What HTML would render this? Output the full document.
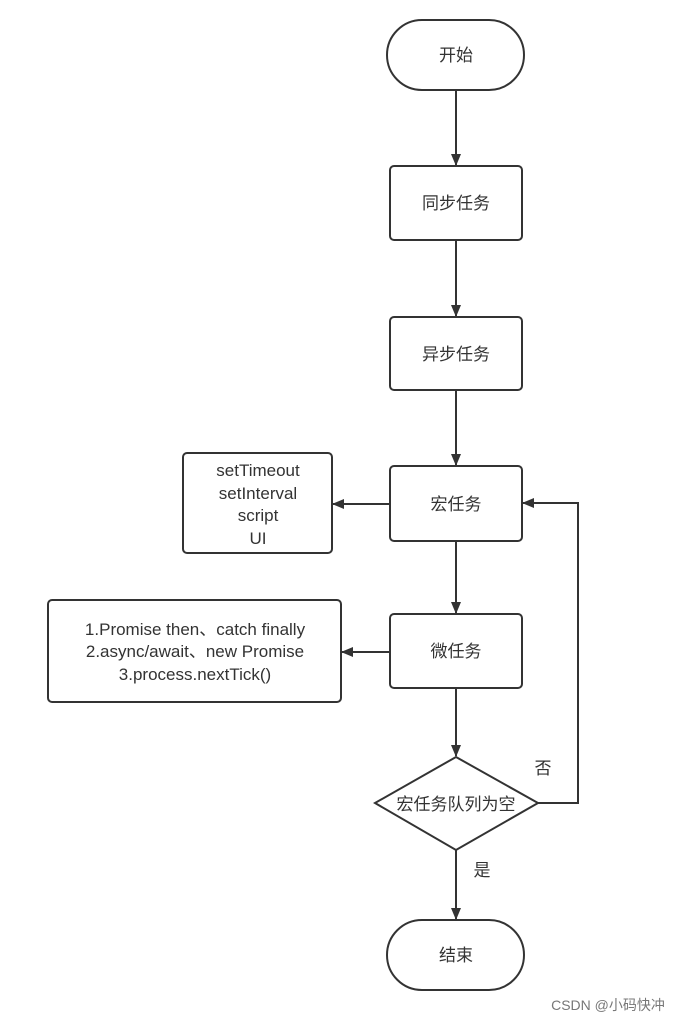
<!DOCTYPE html>
<html><head><meta charset="utf-8"><style>
html,body{margin:0;padding:0;background:#fff;}
svg{display:block;}
text{font-family:"Liberation Sans","Noto Sans CJK SC",sans-serif;fill:#333;}
</style></head><body>
<svg width="692" height="1024" viewBox="0 0 692 1024" xmlns="http://www.w3.org/2000/svg">
<defs><marker id="a" markerWidth="12" markerHeight="10" refX="11" refY="5" orient="auto" markerUnits="userSpaceOnUse"><path d="M0,0 L12,5 L0,10 z" fill="#333"/></marker></defs>
<g fill="none" stroke="#333" stroke-width="2">
<rect x="387" y="20" width="137" height="70" rx="35"/>
<rect x="390" y="166" width="132" height="74" rx="4"/>
<rect x="390" y="317" width="132" height="73" rx="4"/>
<rect x="390" y="466" width="132" height="75" rx="4"/>
<rect x="183" y="453" width="149" height="100" rx="4"/>
<rect x="390" y="614" width="132" height="74" rx="4"/>
<rect x="48" y="600" width="293" height="102" rx="4"/>
<path d="M456,757 L538,803 L456,850 L375,803 Z"/>
<rect x="387" y="920" width="137" height="70" rx="35"/>
<line x1="456" y1="90" x2="456" y2="165" marker-end="url(#a)"/>
<line x1="456" y1="240" x2="456" y2="316" marker-end="url(#a)"/>
<line x1="456" y1="390" x2="456" y2="465" marker-end="url(#a)"/>
<line x1="456" y1="541" x2="456" y2="613" marker-end="url(#a)"/>
<line x1="456" y1="688" x2="456" y2="756" marker-end="url(#a)"/>
<line x1="456" y1="850" x2="456" y2="919" marker-end="url(#a)"/>
<line x1="390" y1="504" x2="333" y2="504" marker-end="url(#a)"/>
<line x1="390" y1="652" x2="342" y2="652" marker-end="url(#a)"/>
<polyline points="538,803 578,803 578,503 523,503" marker-end="url(#a)"/>
</g>
<g font-size="17" text-anchor="middle">
<text x="456" y="61">开始</text>
<text x="456" y="209">同步任务</text>
<text x="456" y="360">异步任务</text>
<text x="456" y="510">宏任务</text>
<text x="456" y="657">微任务</text>
<text x="456" y="810">宏任务队列为空</text>
<text x="456" y="961">结束</text>
<text x="258" y="476">setTimeout</text>
<text x="258" y="499">setInterval</text>
<text x="258" y="521">script</text>
<text x="258" y="544">UI</text>
<text x="195" y="635">1.Promise  then、catch finally</text>
<text x="195" y="657">2.async/await、new Promise</text>
<text x="195" y="680">3.process.nextTick()</text>
<text x="543" y="774">否</text>
<text x="482" y="876">是</text>
</g>
<text x="608" y="1010" font-size="14" text-anchor="middle" fill="#666" style="fill:#777">CSDN @小码快冲</text>
</svg>
</body></html>
